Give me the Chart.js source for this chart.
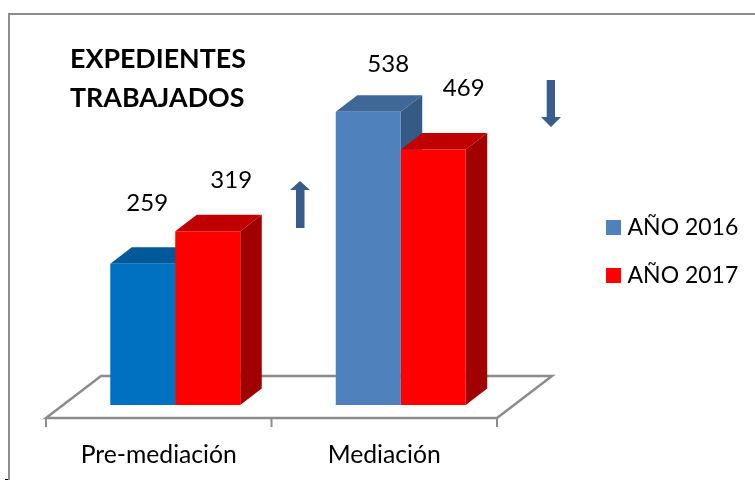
<!DOCTYPE html>
<html>
<head>
<meta charset="utf-8">
<style>
  html, body { margin: 0; padding: 0; background: #fff; }
  #wrap { width: 755px; height: 481px; }
</style>
<script src="https://cdn.jsdelivr.net/npm/chart.js@4/dist/chart.umd.min.js"></script>
</head>
<body>
<div id="wrap"><canvas id="myChart" width="755" height="481"></canvas></div>
<script>
// Data
var categories = ['Pre-mediación', 'Mediación'];
var seriesNames = ['AÑO 2016', 'AÑO 2017'];
var values2016 = [259, 538];
var values2017 = [319, 469];

// front, top and side colours per bar (the first blue bar is darker in the original)
var front2016 = ['#0070c0', '#4f81bd'];
var top2016 = ['#005a9a', '#3f6797'];
var side2016 = ['#004f88', '#345a85'];
var front2017 = ['#ff0000', '#ff0000'];
var top2017 = ['#c00000', '#c00000'];
var side2017 = ['#a00000', '#a00000'];
var legendColors = ['#4f81bd', '#ff0000'];

var FONT = 'Lato, sans-serif';
var GRAY = '#8c8c8c';
var DEPTH_X = 21.5, DEPTH_Y = 16.5;     // bar depth
var FLOOR_DX = 16.5, FLOOR_DY = 13;     // bars stand this far behind the front edge of the floor
var BACK_DX = 55, BACK_DY = 42;         // floor depth

// value labels were hand placed in the original: offset from top centre of the bar
var labelOffsets = [
  [[4.5, -61], [20, -48]],
  [[23.5, -51], [30.5, -61]]
];

function poly(ctx, pts, color) {
  ctx.fillStyle = color;
  ctx.beginPath();
  ctx.moveTo(pts[0][0], pts[0][1]);
  for (var i = 1; i < pts.length; i++) ctx.lineTo(pts[i][0], pts[i][1]);
  ctx.closePath();
  ctx.fill();
}

var scene = {
  id: 'scene',
  afterLayout: function (chart) {
    // put the legend to the right of the floor
    var leg = chart.legend, pad = chart.options.plugins.legend.labels.padding;
    leg.left = 611 - pad;
    leg.right = leg.left + leg.width;
    leg.top = 216 - pad;
    leg.bottom = leg.top + leg.height;
  },
  beforeDatasetsDraw: function (chart) {
    var ctx = chart.ctx, area = chart.chartArea;
    ctx.save();

    // chart frame, only left and top edges show
    ctx.strokeStyle = GRAY;
    ctx.lineWidth = 2;
    ctx.beginPath();
    ctx.moveTo(755, 14);
    ctx.lineTo(9, 14);
    ctx.lineTo(9, 480);
    ctx.stroke();
    ctx.strokeStyle = '#000';
    ctx.lineWidth = 1;
    ctx.beginPath();
    ctx.moveTo(5, 479.5);
    ctx.lineTo(8, 479.5);
    ctx.stroke();

    // floor
    var x0 = area.left - FLOOR_DX, x1 = area.right - FLOOR_DX, y0 = area.bottom + FLOOR_DY;
    ctx.strokeStyle = GRAY;
    ctx.lineWidth = 2.5;
    ctx.beginPath();
    ctx.moveTo(x0, y0);
    ctx.lineTo(x1, y0);
    ctx.lineTo(x1 + BACK_DX, y0 - BACK_DY);
    ctx.lineTo(x0 + BACK_DX, y0 - BACK_DY);
    ctx.closePath();
    ctx.stroke();
    // ticks between categories
    ctx.lineWidth = 2;
    for (var i = 0; i <= categories.length; i++) {
      var tx = x0 + (x1 - x0) * i / categories.length;
      ctx.beginPath();
      ctx.moveTo(tx, y0);
      ctx.lineTo(tx, y0 + 9);
      ctx.stroke();
    }

    // top and side faces, the library draws the fronts over them afterwards
    var tops = [top2016, top2017], sides = [side2016, side2017];
    chart.data.datasets.forEach(function (ds, d) {
      chart.getDatasetMeta(d).data.forEach(function (bar, c) {
        var l = bar.x - bar.width / 2, r = bar.x + bar.width / 2, t = bar.y, b = bar.base;
        poly(ctx, [[l, t], [l + DEPTH_X, t - DEPTH_Y], [r + DEPTH_X, t - DEPTH_Y], [r, t]], tops[d][c]);
        poly(ctx, [[r, t], [r + DEPTH_X, t - DEPTH_Y], [r + DEPTH_X, b - DEPTH_Y], [r, b]], sides[d][c]);
      });
    });
    ctx.restore();
  },
  afterDatasetsDraw: function (chart) {
    var ctx = chart.ctx;
    ctx.save();

    // value labels
    ctx.fillStyle = '#000';
    ctx.font = '24px ' + FONT;
    ctx.textAlign = 'center';
    ctx.textBaseline = 'middle';
    chart.data.datasets.forEach(function (ds, d) {
      chart.getDatasetMeta(d).data.forEach(function (bar, c) {
        ctx.fillText(ds.data[c], bar.x + labelOffsets[d][c][0], bar.y + labelOffsets[d][c][1]);
      });
    });

    // title
    ctx.font = 'bold 26.8px ' + FONT;
    ctx.textAlign = 'left';
    ctx.fillText('EXPEDIENTES', 70, 59);
    ctx.fillText('TRABAJADOS', 70, 98);

    // arrows
    poly(ctx, [[300, 181], [310, 190], [304.5, 190], [304.5, 228], [296, 228], [296, 190], [290, 190]], '#385d8a');
    poly(ctx, [[546.7, 80], [555, 80], [555, 117], [561, 117], [551, 127], [541, 117], [546.7, 117]], '#385d8a');
    ctx.restore();
  }
};

function legendSquare(color) {
  var c = document.createElement('canvas');
  c.width = 15;
  c.height = 15;
  var g = c.getContext('2d');
  g.fillStyle = color;
  g.fillRect(0, 0, 15, 15);
  return c;
}

var ctx = document.getElementById('myChart').getContext('2d');

var myChart = new Chart(ctx, {
  type: 'bar',
  data: {
    labels: categories,
    datasets: [
      { label: seriesNames[0], data: values2016, backgroundColor: front2016 },
      { label: seriesNames[1], data: values2017, backgroundColor: front2017 }
    ]
  },
  plugins: [scene],
  options: {
    responsive: false,
    animation: false,
    layout: { padding: { left: 62.5, right: 241.5, top: 78, bottom: 0 } },
    datasets: { bar: { barPercentage: 1, categoryPercentage: 130 / 225.5 } },
    scales: {
      x: {
        grid: { display: false },
        border: { display: false },
        afterFit: function (scale) { scale.height = 76; },
        ticks: {
          color: '#000',
          padding: 27,
          labelOffset: -16.5,
          maxRotation: 0,
          font: { family: FONT, size: 24.7 }
        }
      },
      y: { display: false, min: 0, max: 600 }
    },
    plugins: {
      tooltip: { enabled: false },
      legend: {
        position: 'chartArea',
        align: 'start',
        labels: {
          color: '#000',
          usePointStyle: true,
          pointStyleWidth: 5,
          padding: 25,
          font: { family: FONT, size: 23 },
          generateLabels: function (chart) {
            return chart.data.datasets.map(function (ds, i) {
              return { text: ds.label, datasetIndex: i, pointStyle: legendSquare(legendColors[i]), lineWidth: 0 };
            });
          }
        }
      }
    }
  }
});
</script>
</body>
</html>
